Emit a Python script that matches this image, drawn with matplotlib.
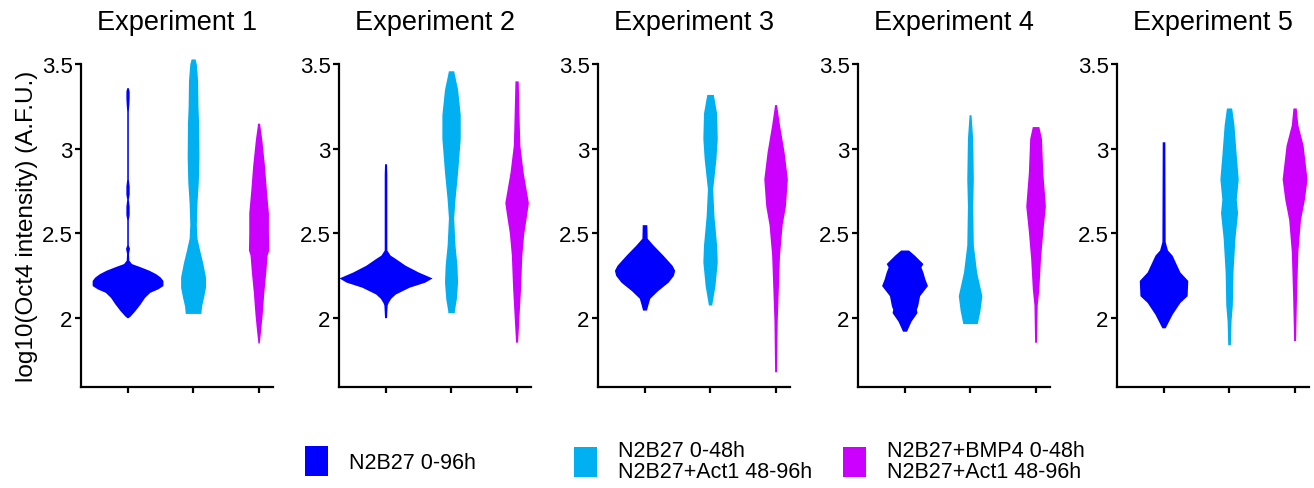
import matplotlib
matplotlib.use("Agg")
import matplotlib.pyplot as plt
from matplotlib.patches import Patch

plt.rcParams['font.family'] = ['Liberation Sans', 'DejaVu Sans']

experiments = ["Experiment 1", "Experiment 2", "Experiment 3", "Experiment 4", "Experiment 5"]
conditions = ["N2B27 0-96h", "N2B27 0-48h\nN2B27+Act1 48-96h", "N2B27+BMP4 0-48h\nN2B27+Act1 48-96h"]
colors = ["#0000FF", "#00B0F0", "#CC00FF"]
yticks = [2, 2.5, 3, 3.5]
ytick_labels = ["2", "2.5", "3", "3.5"]
ylabel = "log10(Oct4 intensity) (A.F.U.)"

# violin outlines: (log10 intensity, half width)
e1_ctrl = [(3.36, 0.012), (3.34, 0.025), (3.30, 0.025), (3.26, 0.02), (3.22, 0.012), (2.82, 0.012),
           (2.78, 0.025), (2.73, 0.025), (2.70, 0.012), (2.66, 0.025), (2.61, 0.025), (2.58, 0.012),
           (2.43, 0.012), (2.41, 0.03), (2.38, 0.015), (2.34, 0.02), (2.32, 0.06), (2.30, 0.2),
           (2.28, 0.33), (2.26, 0.43), (2.24, 0.5), (2.22, 0.54), (2.19, 0.54), (2.17, 0.46),
           (2.15, 0.34), (2.12, 0.26), (2.08, 0.19), (2.04, 0.11), (2.01, 0.04), (2.0, 0.01)]
e1_act = [(3.53, 0.03), (3.50, 0.05), (3.40, 0.07), (3.25, 0.075), (3.15, 0.085), (2.95, 0.09),
          (2.80, 0.08), (2.68, 0.06), (2.55, 0.05), (2.47, 0.06), (2.40, 0.1), (2.32, 0.15),
          (2.24, 0.19), (2.18, 0.19), (2.12, 0.16), (2.07, 0.13), (2.03, 0.12), (2.025, 0.12)]
e1_bmp = [(3.15, 0.015), (3.05, 0.05), (2.90, 0.09), (2.75, 0.12), (2.62, 0.15), (2.50, 0.15),
          (2.40, 0.155), (2.37, 0.13), (2.27, 0.11), (2.15, 0.08), (2.02, 0.055), (1.92, 0.03),
          (1.85, 0.01)]

e2_ctrl = [(2.91, 0.015), (2.85, 0.02), (2.40, 0.02), (2.37, 0.07), (2.35, 0.15), (2.31, 0.3),
           (2.27, 0.5), (2.235, 0.71), (2.21, 0.6), (2.18, 0.36), (2.14, 0.15), (2.115, 0.08),
           (2.09, 0.04), (2.075, 0.025), (2.0, 0.015)]
e2_act = [(3.46, 0.04), (3.35, 0.1), (3.20, 0.14), (3.06, 0.14), (2.86, 0.1), (2.70, 0.06),
          (2.59, 0.04), (2.43, 0.06), (2.31, 0.09), (2.21, 0.1), (2.11, 0.08), (2.04, 0.05),
          (2.03, 0.05)]
e2_bmp = [(3.40, 0.025), (3.16, 0.04), (3.02, 0.05), (2.86, 0.1), (2.68, 0.18), (2.60, 0.15),
          (2.50, 0.11), (2.37, 0.08), (2.17, 0.06), (2.03, 0.04), (1.92, 0.025), (1.855, 0.015)]

e3_ctrl = [(2.55, 0.035), (2.47, 0.04), (2.43, 0.13), (2.37, 0.28), (2.31, 0.42), (2.28, 0.46),
           (2.25, 0.44), (2.21, 0.36), (2.16, 0.2), (2.115, 0.08), (2.075, 0.05), (2.045, 0.03)]
e3_act = [(3.32, 0.05), (3.21, 0.1), (3.06, 0.11), (2.94, 0.09), (2.76, 0.04), (2.60, 0.06),
          (2.43, 0.1), (2.33, 0.11), (2.19, 0.075), (2.075, 0.025)]
e3_bmp = [(3.26, 0.015), (3.14, 0.06), (2.98, 0.13), (2.82, 0.18), (2.66, 0.15), (2.55, 0.1),
          (2.37, 0.06), (2.15, 0.04), (1.98, 0.025), (1.68, 0.015)]

e4_ctrl = [(2.40, 0.06), (2.37, 0.15), (2.32, 0.28), (2.30, 0.25), (2.27, 0.28), (2.23, 0.31),
           (2.19, 0.35), (2.13, 0.23), (2.07, 0.2), (2.05, 0.18), (2.03, 0.19), (1.98, 0.1),
           (1.92, 0.03)]
e4_act = [(3.20, 0.015), (3.06, 0.04), (2.82, 0.05), (2.66, 0.04), (2.43, 0.05), (2.27, 0.1),
          (2.13, 0.18), (2.04, 0.15), (1.965, 0.11)]
e4_bmp = [(3.13, 0.05), (3.06, 0.09), (2.86, 0.11), (2.66, 0.15), (2.51, 0.11), (2.35, 0.075),
          (2.17, 0.05), (2.075, 0.025), (1.855, 0.015)]

e5_ctrl = [(3.04, 0.02), (2.45, 0.025), (2.40, 0.06), (2.37, 0.13), (2.27, 0.25), (2.22, 0.37),
           (2.13, 0.36), (2.09, 0.25), (2.02, 0.13), (1.94, 0.025)]
e5_act = [(3.24, 0.04), (3.14, 0.075), (2.96, 0.11), (2.82, 0.14), (2.70, 0.11), (2.62, 0.13),
          (2.47, 0.09), (2.27, 0.06), (2.075, 0.05), (1.98, 0.03), (1.84, 0.02)]
e5_bmp = [(3.24, 0.025), (3.14, 0.05), (3.02, 0.13), (2.82, 0.19), (2.70, 0.15), (2.58, 0.09),
          (2.39, 0.05), (2.13, 0.03), (1.865, 0.015)]

profiles = [[e1_ctrl, e1_act, e1_bmp],
            [e2_ctrl, e2_act, e2_bmp],
            [e3_ctrl, e3_act, e3_bmp],
            [e4_ctrl, e4_act, e4_bmp],
            [e5_ctrl, e5_act, e5_bmp]]

W, H = 1314, 489
fig = plt.figure(figsize=(W / 100, H / 100), dpi=100)

lefts = [81, 339, 598, 858, 1117]
ax_w = 192
top_px, bot_px = 65, 388

for i, (name, group) in enumerate(zip(experiments, profiles)):
    ax = fig.add_axes([lefts[i] / W, 1 - bot_px / H, ax_w / W, (bot_px - top_px) / H])
    for j, prof in enumerate(group):
        ys = [p[0] for p in prof]
        ws = [p[1] for p in prof]
        c = j + 1
        ax.fill_betweenx(ys, [c - w for w in ws], [c + w for w in ws],
                         color=colors[j], lw=0, clip_on=False, zorder=2)
    ax.set_xlim(0.29, 3.22)
    ax.set_ylim(1.59, 3.5)
    ax.set_xticks([1, 2, 3])
    ax.set_xticklabels([])
    ax.set_yticks(yticks)
    ax.set_yticklabels(ytick_labels)
    for s in ["top", "right"]:
        ax.spines[s].set_visible(False)
    for s in ["left", "bottom"]:
        ax.spines[s].set_linewidth(1.6)
    ax.tick_params(axis="both", width=1.6, length=4, labelsize=16, pad=2)
    ax.set_title(name, fontsize=19.5, pad=25)
    if i == 0:
        ax.set_ylabel(ylabel, fontsize=17.5)
        ax.yaxis.set_label_coords(-0.225, 0.5)

legend_x = [305, 574, 843]
for j in range(3):
    leg = fig.legend(handles=[Patch(facecolor=colors[j], edgecolor="none")],
                     labels=[conditions[j]], loc="center left",
                     bbox_to_anchor=(legend_x[j] / W, 1 - 462 / H),
                     frameon=False, fontsize=15.5, borderpad=0, borderaxespad=0,
                     handlelength=1.05, handleheight=1.75, handletextpad=1.0)
    for t in leg.get_texts():
        t.set_linespacing(0.95)

fig.savefig("out.png", dpi=100)
